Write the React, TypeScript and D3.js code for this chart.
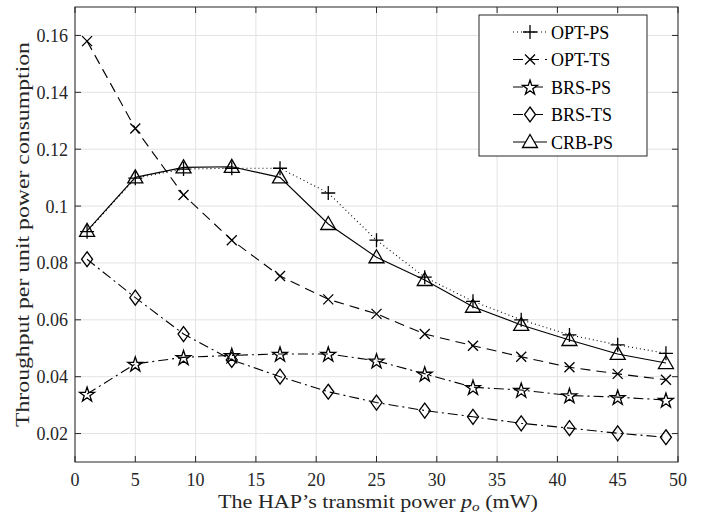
import React from 'react';
import * as d3 from 'd3';

const xValues = [1, 5, 9, 13, 17, 21, 25, 29, 33, 37, 41, 45, 49];
const optPS = [0.0910, 0.1098, 0.1130, 0.1133, 0.1133, 0.1046, 0.0880, 0.0750, 0.0665, 0.0600, 0.0547, 0.0512, 0.0482];
const optTS = [0.1580, 0.1273, 0.1039, 0.0880, 0.0754, 0.0672, 0.0621, 0.0550, 0.0509, 0.0470, 0.0433, 0.0410, 0.0389];
const brsPS = [0.0339, 0.0445, 0.0468, 0.0475, 0.0480, 0.0480, 0.0456, 0.0410, 0.0363, 0.0353, 0.0334, 0.0328, 0.0318];
const brsTS = [0.0813, 0.0678, 0.0550, 0.0459, 0.0400, 0.0347, 0.0309, 0.0281, 0.0259, 0.0236, 0.0219, 0.0201, 0.0187];
const crbPS = [0.0913, 0.1101, 0.1136, 0.1138, 0.1101, 0.0937, 0.0820, 0.0740, 0.0646, 0.0582, 0.0529, 0.0480, 0.0448];

const seriesNames = ['OPT-PS', 'OPT-TS', 'BRS-PS', 'BRS-TS', 'CRB-PS'];
const xTicks = [0, 5, 10, 15, 20, 25, 30, 35, 40, 45, 50];
const yTicks = [0.02, 0.04, 0.06, 0.08, 0.1, 0.12, 0.14, 0.16];

const W = 703, H = 513;
const left = 75, right = 678, top = 7, bottom = 462;
const FONT = '"Liberation Serif", "Times New Roman", serif';
const AX = '#262626';

type Mk = 'plus' | 'x' | 'star' | 'diamond' | 'tri';

function markerPath(m: Mk): string {
  if (m === 'plus') return 'M-7,0H7M0,-7V7';
  if (m === 'x') return 'M-5,-5L5,5M-5,5L5,-5';
  if (m === 'diamond') return 'M0,-7.5L5.5,0L0,7.5L-5.5,0Z';
  if (m === 'tri') return 'M0,-7.5L7.5,5.5L-7.5,5.5Z';
  const R = 7.8, r = R * 0.382;
  const pts: string[] = [];
  for (let i = 0; i < 10; i++) {
    const a = -Math.PI / 2 + (i * Math.PI) / 5;
    const rr = i % 2 === 0 ? R : r;
    pts.push(`${(rr * Math.cos(a)).toFixed(2)},${(rr * Math.sin(a) + 0.8).toFixed(2)}`);
  }
  return 'M' + pts.join('L') + 'Z';
}

const seriesData = [optPS, optTS, brsPS, brsTS, crbPS];
const dashes = ['1,3', '10,6', '10,4,2,4', '10,4,2,4', ''];
const markers: Mk[] = ['plus', 'x', 'star', 'diamond', 'tri'];

export default function App() {
  const x = d3.scaleLinear().domain([0, 50]).range([left, right]);
  const y = d3.scaleLinear().domain([0.01, 0.17]).range([bottom, top]);
  const line = d3
    .line<number>()
    .x((_, i) => x(xValues[i]))
    .y((d) => y(d));

  const legX = 479, legY = 15, legW = 168, legH = 141;
  const legRows = [32, 59.5, 87, 114.5, 142];

  return (
    <svg width={W} height={H} style={{ position: 'absolute', left: 0, top: 0, background: '#fff' }}>
      <rect x={0} y={0} width={W} height={H} fill="#fff" />
      {xTicks.map((t) => (
        <line key={'gx' + t} x1={x(t)} x2={x(t)} y1={top} y2={bottom} stroke="#e3e3e3" strokeWidth={1} />
      ))}
      {yTicks.map((t) => (
        <line key={'gy' + t} x1={left} x2={right} y1={y(t)} y2={y(t)} stroke="#e3e3e3" strokeWidth={1} />
      ))}
      {xTicks.map((t) => (
        <g key={'tx' + t}>
          <line x1={x(t)} x2={x(t)} y1={bottom} y2={bottom - 6} stroke={AX} />
          <line x1={x(t)} x2={x(t)} y1={top} y2={top + 6} stroke={AX} />
          <text x={x(t)} y={486} textAnchor="middle" fontFamily={FONT} fontSize={18} fill={AX}>
            {t}
          </text>
        </g>
      ))}
      {yTicks.map((t) => (
        <g key={'ty' + t}>
          <line x1={left} x2={left + 6} y1={y(t)} y2={y(t)} stroke={AX} />
          <line x1={right} x2={right - 6} y1={y(t)} y2={y(t)} stroke={AX} />
          <text x={68} y={y(t) + 6.5} textAnchor="end" fontFamily={FONT} fontSize={18} fill={AX}>
            {String(t)}
          </text>
        </g>
      ))}
      {seriesData.map((s, k) => (
        <g key={'s' + k}>
          <path d={line(s) || ''} fill="none" stroke="#000" strokeWidth={1.1} strokeDasharray={dashes[k]} />
          {s.map((v, i) => (
            <path
              key={i}
              d={markerPath(markers[k])}
              transform={`translate(${x(xValues[i])},${y(v)})`}
              fill="none"
              stroke="#000"
              strokeWidth={1.3}
            />
          ))}
        </g>
      ))}
      <rect x={left} y={top} width={right - left} height={bottom - top} fill="none" stroke={AX} strokeWidth={1} />
      <rect x={legX} y={legY} width={legW} height={legH} fill="#fff" stroke={AX} strokeWidth={1} />
      {seriesNames.map((n, k) => (
        <g key={'l' + k}>
          <line x1={513} x2={547} y1={legRows[k]} y2={legRows[k]} stroke="#000" strokeWidth={1.1} strokeDasharray={dashes[k]} />
          <path d={markerPath(markers[k])} transform={`translate(530,${legRows[k]})`} fill="#fff" stroke="#000" strokeWidth={1.3} />
          <text x={551} y={legRows[k] + 6.5} fontFamily={FONT} fontSize={18} fill="#000">
            {n}
          </text>
        </g>
      ))}
      <text
        x={378}
        y={508}
        textAnchor="middle"
        fontFamily={FONT}
        fontSize={19}
        fill={AX}
        textLength={320}
        lengthAdjust="spacingAndGlyphs"
      >
        The HAP’s transmit power <tspan fontStyle="italic">p</tspan>
        <tspan fontSize={13} dy={3} fontStyle="italic">o</tspan>
        <tspan dy={-3}> (mW)</tspan>
      </text>
      <text
        transform={`translate(29,${(top + bottom) / 2}) rotate(-90)`}
        textAnchor="middle"
        fontFamily={FONT}
        fontSize={19.5}
        fill={AX}
        textLength={385}
        lengthAdjust="spacingAndGlyphs"
      >
        Throughput per unit power consumption
      </text>
    </svg>
  );
}
